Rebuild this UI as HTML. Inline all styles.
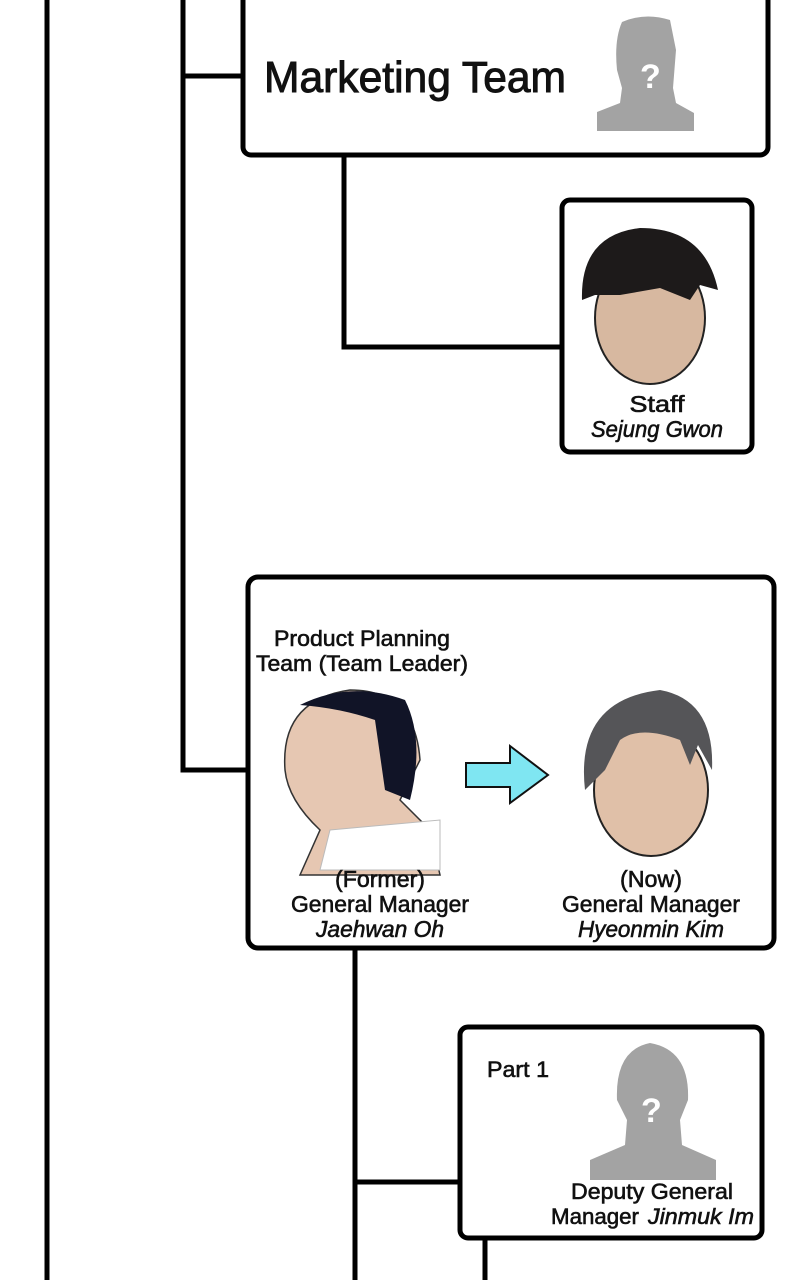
<!DOCTYPE html>
<html><head><meta charset="utf-8"><style>
html,body{margin:0;padding:0;background:#fff;width:800px;height:1280px;overflow:hidden}
text{font-family:"Liberation Sans",sans-serif;fill:#111;stroke:#111;stroke-width:0.6}
</style></head><body>
<svg width="800" height="1280" viewBox="0 0 800 1280" xmlns="http://www.w3.org/2000/svg">
<g stroke="#000" stroke-width="5" fill="none">
<line x1="47" y1="0" x2="47" y2="1280"/>
<polyline points="183,0 183,770 248,770"/>
<line x1="183" y1="76" x2="243" y2="76"/>
<polyline points="344,155 344,347 562,347"/>
<line x1="355" y1="948" x2="355" y2="1280"/>
<line x1="355" y1="1182" x2="460" y2="1182"/>
<line x1="485" y1="1238" x2="485" y2="1280"/>
<rect x="243" y="-20" width="525" height="175" rx="8" fill="#fff"/>
<rect x="562" y="200" width="190" height="252" rx="8" fill="#fff"/>
<rect x="248" y="577" width="526" height="371" rx="10" fill="#fff"/>
<rect x="460" y="1027" width="302" height="211" rx="8" fill="#fff"/>
</g>
<text x="264" y="92" font-size="44" textLength="302" lengthAdjust="spacingAndGlyphs" style="stroke-width:1">Marketing Team</text>
<path d="M597,131 L597,112 L620,103 L622,88 L617,70 Q614,40 622,22 Q645,12 670,20 L676,50 L673,88 L676,103 L694,113 L694,131 Z" fill="#a3a3a3"/>
<text x="640" y="88" font-size="34" style="fill:#fff;stroke:none" font-weight="bold">?</text>
<ellipse cx="650" cy="318" rx="55" ry="66" fill="#d7b8a0" stroke="#222" stroke-width="2"/>
<path d="M582,300 Q580,235 640,228 Q705,228 718,290 L700,285 L690,300 L660,288 L620,295 L595,295 Z" fill="#1d1a1a"/>
<text x="657" y="412" font-size="23" text-anchor="middle" textLength="55" lengthAdjust="spacingAndGlyphs">Staff</text>
<text x="657" y="437" font-size="23" font-style="italic" text-anchor="middle" textLength="132" lengthAdjust="spacingAndGlyphs">Sejung Gwon</text>
<text x="362" y="646" font-size="22" text-anchor="middle" textLength="176" lengthAdjust="spacingAndGlyphs">Product Planning</text>
<text x="362" y="671" font-size="22" text-anchor="middle" textLength="212" lengthAdjust="spacingAndGlyphs">Team (Team Leader)</text>
<path d="M285,770 Q280,700 350,690 Q415,690 420,760 L400,800 L430,830 L440,875 L300,875 L320,830 Q288,800 285,770 Z" fill="#e6c7b2" stroke="#333" stroke-width="1.5"/>
<path d="M300,705 Q350,680 405,700 Q425,740 410,800 L385,790 L375,720 Q340,708 300,705 Z" fill="#111427"/>
<path d="M330,830 L440,820 L440,870 L320,870 Z" fill="#fff" stroke="#bbb"/>
<polygon points="466,763 510,763 510,746 548,775 510,803 510,787 466,787" fill="#7fe6f2" stroke="#111" stroke-width="2"/>
<ellipse cx="651" cy="790" rx="57" ry="66" fill="#e0c0a8" stroke="#222" stroke-width="2"/>
<path d="M585,790 Q575,700 660,690 Q715,700 712,770 L698,745 L690,765 L680,740 Q640,725 620,740 L605,770 Z" fill="#555558"/>
<text x="380" y="887" font-size="23" text-anchor="middle" textLength="90" lengthAdjust="spacingAndGlyphs">(Former)</text>
<text x="380" y="912" font-size="23" text-anchor="middle" textLength="178" lengthAdjust="spacingAndGlyphs">General Manager</text>
<text x="380" y="937" font-size="23" font-style="italic" text-anchor="middle" textLength="128" lengthAdjust="spacingAndGlyphs">Jaehwan Oh</text>
<text x="651" y="887" font-size="23" text-anchor="middle" textLength="62" lengthAdjust="spacingAndGlyphs">(Now)</text>
<text x="651" y="912" font-size="23" text-anchor="middle" textLength="178" lengthAdjust="spacingAndGlyphs">General Manager</text>
<text x="651" y="937" font-size="23" font-style="italic" text-anchor="middle" textLength="146" lengthAdjust="spacingAndGlyphs">Hyeonmin Kim</text>
<text x="487" y="1077" font-size="22" textLength="62" lengthAdjust="spacingAndGlyphs">Part 1</text>
<path d="M590,1180 L590,1160 L625,1145 L627,1120 L617,1100 Q615,1050 650,1043 Q690,1050 688,1100 L680,1120 L682,1145 L716,1160 L716,1180 Z" fill="#a3a3a3"/>
<text x="641" y="1122" font-size="34" style="fill:#fff;stroke:none" font-weight="bold">?</text>
<text x="652" y="1199" font-size="22" text-anchor="middle" textLength="162" lengthAdjust="spacingAndGlyphs">Deputy General</text>
<text x="551" y="1224" font-size="22" textLength="88" lengthAdjust="spacingAndGlyphs">Manager</text>
<text x="648" y="1224" font-size="22" font-style="italic" textLength="106" lengthAdjust="spacingAndGlyphs">Jinmuk Im</text>
</svg>
</body></html>
